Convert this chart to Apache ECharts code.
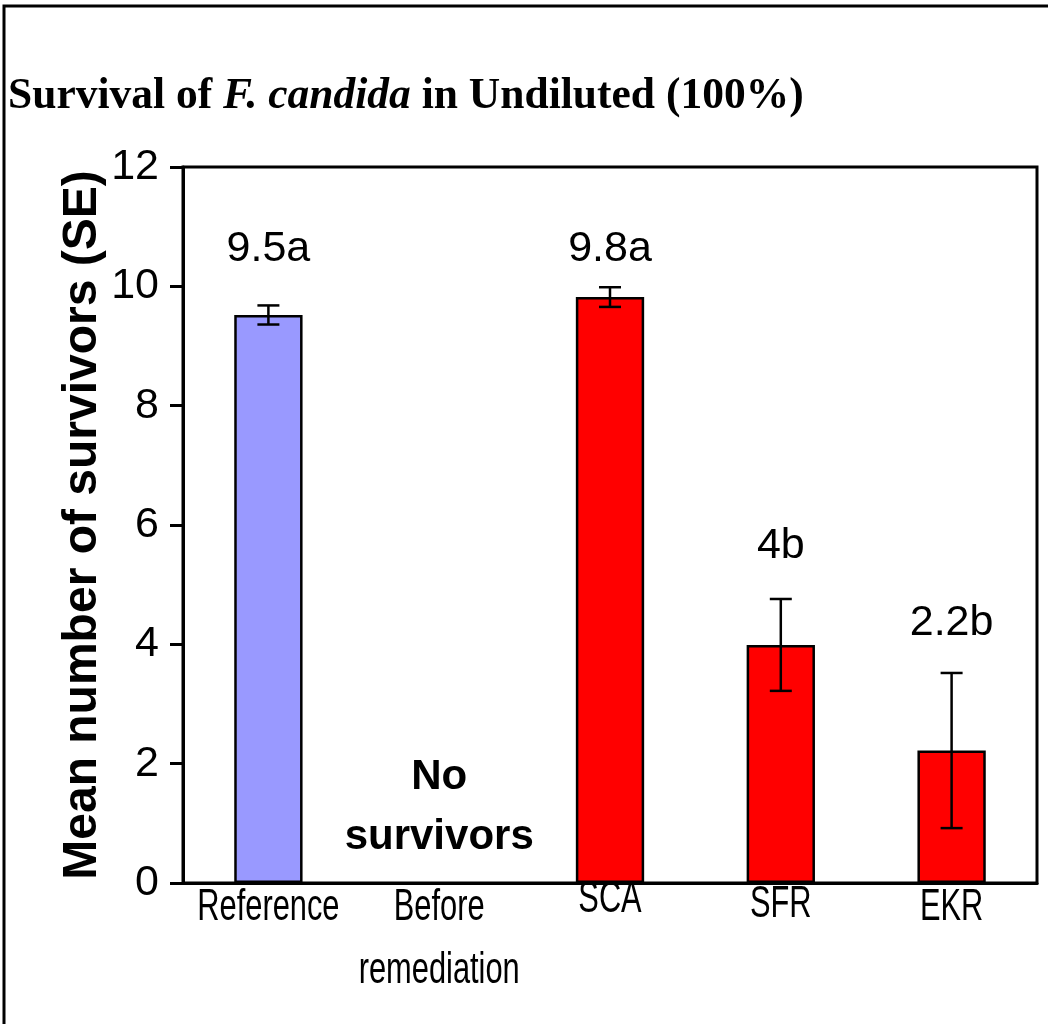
<!DOCTYPE html>
<html>
<head>
<meta charset="utf-8">
<script src="https://cdn.jsdelivr.net/npm/echarts@6/dist/echarts.min.js"></script>
<style>html,body{margin:0;padding:0;background:#fff}#c{width:1048px;height:1024px}</style>
</head>
<body>
<div id="c"></div>
<script>
const categories = ['Reference', 'Before\nremediation', 'SCA', 'SFR', 'EKR'];
const means = [9.52, null, 9.82, 3.99, 2.22];
const errors = [0.16, null, 0.165, 0.77, 1.3];
const barColors = ['#9999FF', '#FF0000', '#FF0000', '#FF0000', '#FF0000'];
const valueLabels = ['9.5a', '', '9.8a', '4b', '2.2b'];
const valueLabelY = [10.62, null, 10.62, 5.65, 4.35];
const noSurvivorText = 'No\nsurvivors';
const noSurvivorY = 1.27;
const yTicks = [0, 2, 4, 6, 8, 10, 12];

const chart = echarts.init(document.getElementById('c'), null, {renderer: 'canvas'});
const sans = 'Liberation Sans, Arial, sans-serif';
const serif = 'Liberation Serif, Times New Roman, serif';
const catDrop = [-7, -7, -15, -10, -7];

const option = {
  backgroundColor: '#fff',
  animation: false,
  title: {
    text: '{b|Survival of }{i|F. candida}{b| in Undiluted (100%)}',
    left: 8, top: 75, padding: 0,
    textStyle: {
      rich: {
        b: {fontFamily: serif, fontWeight: 'bold', fontSize: 43.5, color: '#000'},
        i: {fontFamily: serif, fontWeight: 'bold', fontStyle: 'italic', fontSize: 43.5, color: '#000'}
      }
    }
  },
  graphic: [{
    type: 'rect', shape: {x: 4, y: 6, width: 1200, height: 1200},
    style: {fill: 'none', stroke: '#000', lineWidth: 3}, silent: true
  }],
  grid: {left: 183, right: 11, top: 167, bottom: 141, show: true, borderColor: '#000', borderWidth: 3, backgroundColor: 'transparent'},
  xAxis: {
    type: 'category', data: categories,
    axisLine: {lineStyle: {color: '#000', width: 3}},
    axisTick: {show: false},
    axisLabel: {show: false}
  },
  yAxis: {
    type: 'value', min: 0, max: 12, interval: 2,
    name: 'Mean number of survivors (SE)', nameLocation: 'middle', nameGap: 76, nameMoveOverlap: false,
    nameTextStyle: {fontFamily: sans, fontWeight: 'bold', fontSize: 48, color: '#000'},
    axisLine: {show: true, lineStyle: {color: '#000', width: 3}},
    axisTick: {show: true, length: 13, lineStyle: {color: '#000', width: 3}},
    axisLabel: {color: '#000', fontFamily: sans, fontSize: 43, margin: 24,
      formatter: v => yTicks.includes(v) ? String(v) : ''},
    splitLine: {show: false}
  },
  series: [
    {
      type: 'bar', barWidth: '40%',
      data: means.map((v, i) => ({value: v, itemStyle: {color: barColors[i]}})),
      itemStyle: {borderColor: '#000', borderWidth: 2.5},
      z: 2
    },
    {
      type: 'custom',
      data: means.map((v, i) => [i, v, errors[i]]).filter(d => d[1] != null),
      renderItem: (params, api) => {
        const x = api.value(0), m = api.value(1), e = api.value(2);
        const top = api.coord([x, m + e]);
        const bot = api.coord([x, m - e]);
        const cw = 11;
        const st = {stroke: '#000', lineWidth: 2.5};
        return {type: 'group', children: [
          {type: 'line', shape: {x1: top[0], y1: top[1], x2: bot[0], y2: bot[1]}, style: st},
          {type: 'line', shape: {x1: top[0] - cw, y1: top[1], x2: top[0] + cw, y2: top[1]}, style: st},
          {type: 'line', shape: {x1: bot[0] - cw, y1: bot[1], x2: bot[0] + cw, y2: bot[1]}, style: st}
        ]};
      },
      z: 3
    },
    {
      // category labels (condensed look)
      type: 'custom',
      data: categories.map((c, i) => [i, 0]),
      clip: false,
      renderItem: (params, api) => {
        const i = api.value(0);
        const p = api.coord([i, 0]);
        return {
          type: 'text', x: p[0], y: p[1] + catDrop[i], scaleX: 0.7,
          style: {text: categories[i], x: 0, y: 0, align: 'center', verticalAlign: 'top',
            fontFamily: sans, fontSize: 44, lineHeight: 63, fill: '#000'}
        };
      },
      z: 4
    },
    {
      type: 'scatter', symbolSize: 0, itemStyle: {opacity: 1},
      data: valueLabelY.map((y, i) => [i, y, valueLabels[i]]).filter(d => d[1] != null),
      label: {show: true, position: 'inside', formatter: p => p.data[2],
        color: '#000', fontFamily: sans, fontSize: 43},
      z: 4
    },
    {
      type: 'scatter', symbolSize: 0, itemStyle: {opacity: 1},
      data: [[1, noSurvivorY, noSurvivorText]],
      label: {show: true, position: 'inside', formatter: p => p.data[2],
        color: '#000', fontFamily: sans, fontWeight: 'bold', fontSize: 42, lineHeight: 60, align: 'center'},
      z: 4
    }
  ]
};
chart.setOption(option);
</script>
</body>
</html>
